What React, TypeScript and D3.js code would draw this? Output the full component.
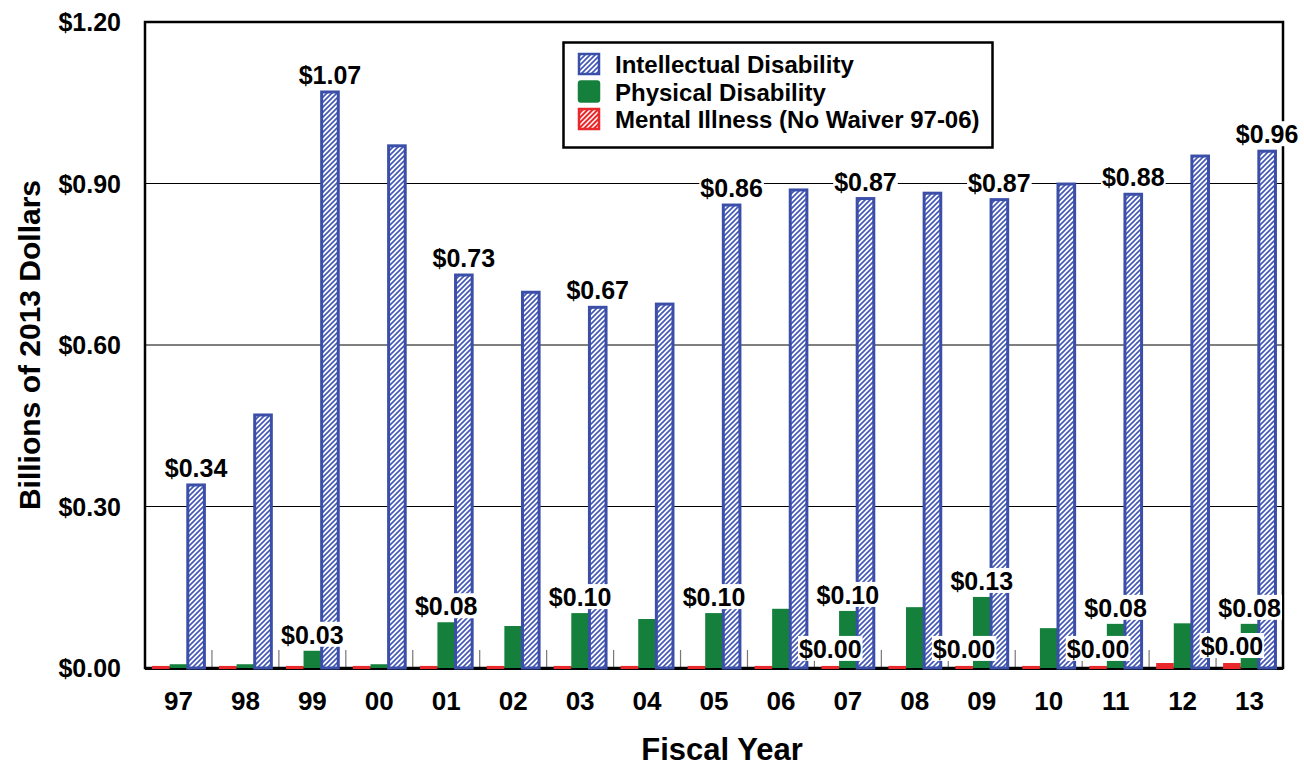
import React, { useEffect, useRef } from "react";
import * as d3 from "d3";

const years = ["97", "98", "99", "00", "01", "02", "03", "04", "05", "06", "07", "08", "09", "10", "11", "12", "13"];
const intellectual = [0.34, 0.47, 1.07, 0.97, 0.73, 0.698, 0.67, 0.676, 0.86, 0.888, 0.872, 0.882, 0.87, 0.899, 0.88, 0.951, 0.96];
const physical = [0.007, 0.007, 0.032, 0.007, 0.085, 0.078, 0.102, 0.091, 0.102, 0.11, 0.106, 0.113, 0.132, 0.074, 0.082, 0.083, 0.082];
const mental = [0.002, 0.002, 0.002, 0.002, 0.002, 0.002, 0.002, 0.002, 0.002, 0.002, 0.002, 0.002, 0.002, 0.002, 0.002, 0.0074, 0.0074];
const yTicks = [0, 0.3, 0.6, 0.9, 1.2];
const labeledIntellectual = ["97", "99", "01", "03", "05", "07", "09", "11", "13"];
const labeledPhysical = ["99", "01", "03", "05", "07", "09", "11", "13"];
const labeledMental = ["07", "09", "11", "13"];
const seriesNames = ["Intellectual Disability", "Physical Disability", "Mental Illness (No Waiver 97-06)"];

const BLUE = "#3b4fa8";
const GREEN = "#14803c";
const RED = "#e8282b";
const FONT = "'Liberation Sans', Arial, Helvetica, sans-serif";

export default function App() {
  const ref = useRef<SVGSVGElement | null>(null);

  useEffect(() => {
    const svg = d3.select(ref.current);
    svg.selectAll("*").remove();

    const left = 145, right = 1283, top = 22, bottom = 668;

    const defs = svg.append("defs");
    const mkHatch = (id: string, bg: string, fg: string, w: number) => {
      const p = defs.append("pattern").attr("id", id).attr("patternUnits", "userSpaceOnUse")
        .attr("width", 5).attr("height", 5);
      p.append("rect").attr("width", 5).attr("height", 5).attr("fill", bg);
      p.append("path").attr("d", "M0,5 L5,0 M-1,1 L1,-1 M4,6 L6,4")
        .attr("stroke", fg).attr("stroke-width", w);
    };
    mkHatch("hatchBlue", "#ffffff", "#4459b8", 1.7);
    mkHatch("hatchRed", RED, "#ffffff", 1.5);

    const x0 = d3.scaleBand<string>().domain(years).range([left, right]).padding(0);
    const x1 = d3.scaleBand<string>().domain(["mental", "physical", "intellectual"])
      .range([0, x0.bandwidth()]).paddingInner(0).paddingOuter(0.4);
    const y = d3.scaleLinear().domain([0, 1.2]).range([bottom, top]);

    const fmtTick = (v: number) => "$" + v.toFixed(2);
    const fmtLabel = (v: number) => "$" + (Math.floor(v * 100 + 1e-6) / 100).toFixed(2);

    svg.append("rect").attr("width", 1304).attr("height", 766).attr("fill", "#fff");

    // gridlines
    svg.append("g").selectAll("line").data(yTicks.filter(t => t > 0 && t < 1.2)).join("line")
      .attr("x1", left).attr("x2", right).attr("y1", d => y(d)).attr("y2", d => y(d))
      .attr("stroke", "#000").attr("stroke-width", 1);

    // category separators
    svg.append("g").selectAll("line").data(years.slice(1)).join("line")
      .attr("x1", d => x0(d)!).attr("x2", d => x0(d)!).attr("y1", bottom - 18).attr("y2", bottom)
      .attr("stroke", "#777").attr("stroke-width", 1.2);

    // frame
    svg.append("rect").attr("x", left).attr("y", top).attr("width", right - left).attr("height", bottom - top)
      .attr("fill", "none").attr("stroke", "#000").attr("stroke-width", 2.5);
    svg.append("line").attr("x1", left).attr("x2", right).attr("y1", bottom + 0.5).attr("y2", bottom + 0.5)
      .attr("stroke", "#000").attr("stroke-width", 3);

    // bars
    const gBars = svg.append("g");
    gBars.selectAll("rect.mi").data(years).join("rect").attr("class", "mi")
      .attr("x", d => x0(d)! + x1("mental")!).attr("width", x1.bandwidth())
      .attr("y", (d, i) => y(mental[i]) - 1).attr("height", (d, i) => y(0) - y(mental[i]) + 2)
      .attr("fill", RED);
    gBars.selectAll("rect.pd").data(years).join("rect").attr("class", "pd")
      .attr("x", d => x0(d)! + x1("physical")!).attr("width", x1.bandwidth())
      .attr("y", (d, i) => y(physical[i])).attr("height", (d, i) => y(0) - y(physical[i]))
      .attr("fill", GREEN);
    gBars.selectAll("rect.id").data(years).join("rect").attr("class", "id")
      .attr("x", d => x0(d)! + x1("intellectual")! + 0.5).attr("width", x1.bandwidth() - 1)
      .attr("y", (d, i) => y(intellectual[i])).attr("height", (d, i) => y(0) - y(intellectual[i]))
      .attr("fill", "url(#hatchBlue)").attr("stroke", BLUE).attr("stroke-width", 3);

    // data labels with white boxes
    const gLab = svg.append("g");
    const addLabel = (cx: number, baseline: number, txt: string) => {
      const g = gLab.append("g");
      const r = g.append("rect").attr("fill", "#fff");
      const t = g.append("text").attr("x", cx).attr("y", baseline).attr("text-anchor", "middle")
        .attr("font-family", FONT).attr("font-weight", "bold").attr("font-size", 25).attr("fill", "#000")
        .text(txt);
      const bb = (t.node() as SVGTextElement).getBBox();
      r.attr("x", bb.x - 1).attr("y", baseline - 22).attr("width", bb.width + 2).attr("height", 25);
    };
    years.forEach((yr, i) => {
      if (labeledIntellectual.includes(yr)) {
        addLabel(x0(yr)! + x1("intellectual")! + x1.bandwidth() / 2, y(intellectual[i]) - 8, fmtLabel(intellectual[i]));
      }
    });
    years.forEach((yr, i) => {
      if (labeledPhysical.includes(yr)) {
        addLabel(x0(yr)! + x1("physical")! + x1.bandwidth() / 2, y(physical[i]) - 7, fmtLabel(physical[i]));
      }
    });
    years.forEach((yr, i) => {
      if (labeledMental.includes(yr)) {
        addLabel(x0(yr)! + x1("mental")! + x1.bandwidth() / 2, y(mental[i]) - 9, fmtLabel(mental[i]));
      }
    });

    // y tick labels
    svg.append("g").selectAll("text").data(yTicks).join("text")
      .attr("x", 121).attr("y", d => y(d) + 9).attr("text-anchor", "end")
      .attr("font-family", FONT).attr("font-weight", "bold").attr("font-size", 25)
      .text(d => fmtTick(d));

    // x tick labels
    svg.append("g").selectAll("text").data(years).join("text")
      .attr("x", d => x0(d)! + x0.bandwidth() / 2).attr("y", 710).attr("text-anchor", "middle")
      .attr("font-family", FONT).attr("font-weight", "bold").attr("font-size", 26)
      .text(d => d);

    // axis titles
    svg.append("text").attr("x", 722).attr("y", 760).attr("text-anchor", "middle")
      .attr("font-family", FONT).attr("font-weight", "bold").attr("font-size", 31).text("Fiscal Year");
    svg.append("text").attr("transform", "translate(40,345) rotate(-90)").attr("text-anchor", "middle")
      .attr("font-family", FONT).attr("font-weight", "bold").attr("font-size", 30).text("Billions of 2013 Dollars");

    // legend
    const lg = svg.append("g");
    lg.append("rect").attr("x", 563.5).attr("y", 42.5).attr("width", 429).attr("height", 105)
      .attr("fill", "#fff").attr("stroke", "#000").attr("stroke-width", 2.5);
    const swFill = ["url(#hatchBlue)", GREEN, "url(#hatchRed)"];
    const swStroke = [BLUE, GREEN, RED];
    seriesNames.forEach((name, i) => {
      const yy = 53 + i * 27.5;
      lg.append("rect").attr("x", 579).attr("y", yy + 1).attr("width", 20).attr("height", 20)
        .attr("fill", swFill[i]).attr("stroke", swStroke[i]).attr("stroke-width", 2.5)
        .attr("rx", i === 1 ? 2 : 0);
      lg.append("text").attr("x", 615).attr("y", yy + 20)
        .attr("font-family", FONT).attr("font-weight", "bold").attr("font-size", 24).text(name);
    });
  }, []);

  return (
    <svg ref={ref} width={1304} height={766}
      style={{ position: "absolute", left: 0, top: 0, display: "block" }} />
  );
}
